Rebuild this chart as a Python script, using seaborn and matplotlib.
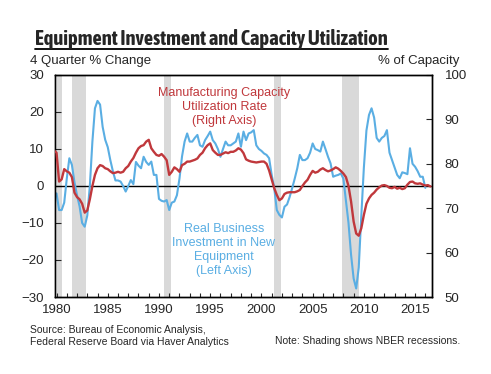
import numpy as np
import pandas as pd
import matplotlib
matplotlib.use("Agg")
import matplotlib.pyplot as plt
import seaborn as sns
from matplotlib import font_manager
from matplotlib.lines import Line2D
from matplotlib.ticker import MultipleLocator

# Real business investment in new equipment, 4-quarter % change (quarterly, 1980Q1 - 2016Q1)
equip_start = 1980.0
equip_pct = [
    -2, -6.5, -6.5, -4.5, 2, 7.5, 5.7, 1,
    -2.5, -5.5, -10, -11, -8, 0, 12, 21,
    23, 22, 16, 12.5, 10.5, 7, 4, 1.5,
    1.5, 1.2, 0, -1.5, 0, 1.6, 0.5, 6.5,
    5.5, 4.8, 7.9, 6.5, 5.7, 6.6, 3, 3,
    -3.5, -4, -4.2, -3.8, -6.5, -4.5, -4.2, -2.5,
    2, 8, 12, 14.2, 12, 12, 13, 13.8,
    11, 10.6, 12.4, 13.5, 14.7, 12.4, 11.5, 10,
    7.9, 10, 12, 11, 11, 11.5, 12, 14.2,
    10.6, 14.7, 12.4, 14.2, 14.5, 15.1, 11, 10,
    9.5, 8.8, 8.4, 7.5, 3, -0.5, -6.5, -7.8,
    -8.5, -5.6, -5, -3, -0.6, 2, 4.8, 8.4,
    7, 7, 7.5, 9, 11.5, 10, 9.7, 9.3,
    12, 10, 7.9, 6.1, 2.5, 2.8, 3, 3.4,
    2, -4, -10, -18.6, -25, -27.7, -22, -8,
    5, 15, 19.2, 21, 18.5, 13, 12, 13,
    13.5, 15.1, 9, 7, 5, 3, 2.1, 3.7,
    3.5, 3.2, 10.2, 6, 5.2, 4, 2.5, 2.5,
    -0.5,
]

# Manufacturing capacity utilization rate, % of capacity (quarterly, 1979Q4 - 2016Q3)
util_start = 1979.75
util_rate = [
    83,
    82.5, 76, 76.5, 78.8, 78.3, 78, 77, 73.5,
    72.5, 72, 71, 69, 69.5, 72, 75, 77.5,
    79, 79.7, 79.5, 79, 78.8, 78.3, 77.9, 78,
    78.2, 78, 78.2, 79, 79.5, 80.5, 81.3, 82.5,
    83.5, 84, 84.2, 85, 85.4, 83.5, 82.7, 82,
    81.8, 82.2, 81.6, 80.8, 77.5, 78.2, 79.2, 78.8,
    78.2, 79.7, 80, 80.5, 80.5, 80.7, 80.9, 81.2,
    82, 82.5, 83.5, 84.2, 84.6, 83.1, 82.5, 82,
    82, 82.3, 82.6, 82.4, 82.7, 82.7, 83, 83.5,
    83.2, 82.4, 81, 80.7, 80.5, 80.4, 80.3, 80.4,
    80.5, 80.5, 80, 78.5, 76.5, 74.5, 73, 71.8,
    72.2, 73.2, 73.5, 73.6, 73.6, 73.6, 73.8, 74.1,
    75, 75.8, 76.4, 77.5, 78.4, 78, 78.2, 78.7,
    79, 78.6, 78.3, 78.5, 78.8, 79.2, 78.9, 78.4,
    77.8, 77, 75, 71.5, 67, 64.3, 63.8, 65.5,
    68.5, 71, 72.2, 73, 73.5, 74.2, 74.7, 75.1,
    75.2, 75, 74.6, 74.5, 74.8, 74.4, 74.6, 74.3,
    74.5, 75.3, 75.9, 76, 75.6, 75.5, 75.6, 75.3,
    75.1, 75.2, 74.9,
]

# NBER recessions (start, end) in decimal years
recessions = [(1980.0, 1980.5), (1981.5, 1982.9), (1990.5, 1991.2),
              (2001.2, 2001.9), (2007.9, 2009.5)]

equip = pd.DataFrame({"date": equip_start + np.arange(len(equip_pct)) / 4, "pct": equip_pct})
util = pd.DataFrame({"date": util_start + np.arange(len(util_rate)) / 4, "rate": util_rate})

sns.set_style("white")
plt.rcParams["font.family"] = ["Liberation Sans", "DejaVu Sans"]

blue = "#5aaee3"
red = "#c0383c"
W, H = 491, 374

fig = plt.figure(figsize=(W / 100, H / 100), dpi=100)
ax = fig.add_axes([55 / W, 1 - 297 / H, (432 - 55) / W, (297 - 75) / H])
ax2 = ax.twinx()

for s, e in recessions:
    ax.axvspan(s, e, color="#d9d9d9", lw=0, zorder=0)
ax.axhline(0, color="black", lw=1, zorder=1)

sns.lineplot(data=equip, x="date", y="pct", ax=ax, color=blue, lw=1.5, zorder=2)
sns.lineplot(data=util, x="date", y="rate", ax=ax2, color=red, lw=1.7, zorder=3)

ax.set_xlim(1979.85, 2016.65)
ax.set_ylim(-30, 30)
ax2.set_ylim(50, 100)
ax.set_xlabel("")
ax.set_ylabel("")
ax2.set_ylabel("")

ax.set_xticks(range(1980, 2016, 5))
ax.xaxis.set_minor_locator(MultipleLocator(1))
ax.set_yticks(range(-30, 31, 10))
ax2.set_yticks(range(50, 101, 10))
ax.tick_params(axis="x", which="both", direction="in", length=3, width=0.8,
               labelsize=9.5, pad=5, bottom=True, top=False)
ax.tick_params(axis="y", direction="in", length=4, width=0.8, labelsize=9.5, pad=8, left=True)
ax2.tick_params(axis="y", direction="in", length=4, width=0.8, labelsize=9.5, pad=9, right=True)

for a in (ax, ax2):
    for sp in a.spines.values():
        sp.set_color("black")
        sp.set_linewidth(1)

# Title: prefer a narrow/condensed face; shrink to fit the reference width otherwise
narrow = None
for f in font_manager.fontManager.ttflist:
    nm = f.name.lower()
    if ("narrow" in nm or "condensed" in nm) and f.weight in ("bold", 700):
        narrow = f.name
        break
title_kw = dict(fontweight="bold", ha="left", va="baseline")
if narrow:
    title_kw["family"] = [narrow, "Liberation Sans", "DejaVu Sans"]
else:
    for f in font_manager.fontManager.ttflist:
        if f.name == "DejaVu Sans" and f.stretch == "condensed" and f.weight in ("bold", 700):
            title_kw["family"] = ["DejaVu Sans"]
            title_kw["fontstretch"] = "condensed"
            break
title = fig.text(35 / W, 1 - 45 / H, "Equipment Investment and Capacity Utilization",
                 fontsize=15, **title_kw)
fig.canvas.draw()
r = fig.canvas.get_renderer()
bb = title.get_window_extent(r)
if bb.width > 356:
    title.set_fontsize(15 * 354 / bb.width)
    fig.canvas.draw()
    bb = title.get_window_extent(r)
fig.add_artist(Line2D([bb.x0 / W, bb.x1 / W], [1 - 48.5 / H, 1 - 48.5 / H],
                      color="black", lw=1.3, transform=fig.transFigure))

fig.text(30 / W, 1 - 61 / H, "4 Quarter % Change", fontsize=9.5, ha="left", va="center")
fig.text(459 / W, 1 - 61 / H, "% of Capacity", fontsize=9.5, ha="right", va="center")

fig.text(224 / W, 1 - 107 / H, "Manufacturing Capacity\nUtilization Rate\n(Right Axis)",
         color=red, fontsize=9, ha="center", va="center", linespacing=1.25)
fig.text(224 / W, 1 - 250 / H, "Real Business\nInvestment in New\nEquipment\n(Left Axis)",
         color=blue, fontsize=9, ha="center", va="center", linespacing=1.25)

fig.text(30 / W, 1 - 336 / H, "Source: Bureau of Economic Analysis,\nFederal Reserve Board via Haver Analytics",
         fontsize=7.5, ha="left", va="center", linespacing=1.15)
fig.text(460 / W, 1 - 341 / H, "Note: Shading shows NBER recessions.",
         fontsize=7.5, ha="right", va="center")

fig.savefig("out.png", dpi=100)
